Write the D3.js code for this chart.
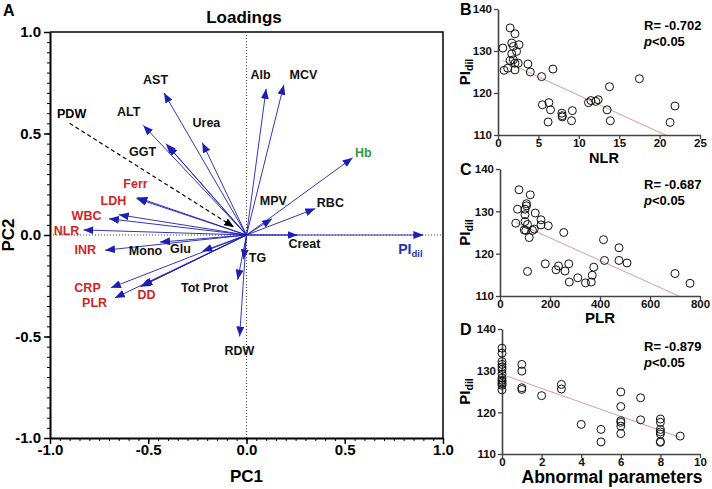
<!DOCTYPE html>
<html>
<head>
<meta charset="utf-8">
<script src="https://cdn.jsdelivr.net/npm/d3@7"></script>
<style>
  body { margin: 0; background: #fff; }
  text { font-family: Arial, "Liberation Sans", sans-serif; font-weight: bold; }
</style>
</head>
<body>
<div id="chart"></div>
<script>
// ---- loadings (panel A) ----
var loadLabels = ["AST", "ALT", "GGT", "", "Urea", "Alb", "MCV", "Hb", "RBC", "MPV", "Creat", "PI",
  "Ferr", "LDH", "WBC", "", "NLR", "INR", "Mono", "Glu", "CRP", "PLR", "DD", "", "Tot Prot", "TG", "RDW"];
var pc1 = [-0.42, -0.525, -0.41, -0.40, -0.225, 0.10, 0.19, 0.54, 0.35, 0.13, 0.26, 0.90,
  -0.555, -0.56, -0.70, -0.65, -0.83, -0.72, -0.44, -0.225, -0.69, -0.67, -0.54, -0.53, -0.045, -0.015, -0.035];
var pc2 = [0.70, 0.54, 0.45, 0.44, 0.455, 0.72, 0.74, 0.38, 0.13, 0.08, 0.0, 0.0,
  0.185, 0.18, 0.08, 0.10, 0.025, -0.075, -0.035, -0.08, -0.26, -0.31, -0.255, -0.25, -0.22, -0.12, -0.50];
var groups = ["lab", "lab", "lab", "lab", "lab", "lab", "lab", "hb", "lab", "lab", "lab", "pi",
  "inflam", "inflam", "inflam", "inflam", "inflam", "inflam", "lab", "lab", "inflam", "inflam", "inflam", "inflam", "lab", "lab", "lab"];
var pdw = [-0.90, 0.55];
var axisTicks = [-1, -0.5, 0, 0.5, 1];

// ---- scatter panels ----
var nlrX = [1.5, 2.1, 0.6, 1.7, 1.9, 2.6, 2.3, 1.7, 1.5, 1.9, 2.1, 2.5, 0.75, 1.2, 2.1, 3.7, 4.0, 5.4, 6.8, 5.5,
  6.3, 6.5, 6.2, 7.9, 7.95, 7.95, 9.2, 9.1, 11.2, 11.5, 12.1, 12.4, 13.5, 13.8, 13.9, 17.5, 21.3, 21.9];
var piB = [135.5, 134.1, 130.7, 131.9, 131.1, 131.5, 129.9, 129.3, 127.7, 127.9, 127.1, 127.1, 125.4, 125.9, 125.5, 126.9, 125.0, 123.9, 125.7, 117.2,
  117.7, 116.0, 113.1, 115.2, 114.6, 114.3, 115.8, 113.4, 117.7, 118.2, 118.0, 118.4, 116.0, 121.5, 113.4, 123.4, 113.0, 116.9];
var plrX = [76, 121, 70, 106, 106, 100, 141, 100, 164, 100, 63, 110, 164, 193, 97, 103, 130, 137, 117, 255,
  110, 181, 224, 234, 260, 275, 277, 311, 342, 365, 369, 375, 414, 418, 476, 476, 508, 700, 760];
var piC = [135.1, 133.9, 130.5, 131.8, 131.3, 130.5, 129.6, 129.2, 128.0, 127.6, 127.2, 126.9, 126.8, 126.6, 125.6, 125.5, 125.5, 125.8, 123.8, 125.0,
  115.8, 117.6, 116.2, 117.1, 115.9, 117.6, 113.3, 114.3, 113.1, 113.3, 114.9, 116.8, 123.3, 118.4, 121.4, 118.4, 117.8, 115.3, 113.0];
var abnX = [0, 0, 0, 0, 0, 0, 0, 0, 0, 0, 0, 0, 0, 1, 1, 1, 1, 2, 3, 3, 4, 5, 5,
  6, 6, 6, 6, 6, 6, 7, 7, 8, 8, 8, 8, 8, 8, 8, 9];
var piD = [135.4, 134.2, 132.2, 131.5, 130.9, 130.3, 129.2, 128.2, 127.7, 127.3, 126.9, 126.5, 125.4, 131.5, 129.9, 125.9, 125.5, 124.0, 126.7, 125.6, 117.1, 115.9, 112.9,
  124.9, 121.4, 118.0, 117.6, 116.7, 114.9, 123.5, 118.2, 118.4, 117.6, 115.9, 115.3, 114.8, 113.0, 112.8, 114.3];
// fitted lines [intercept, slope] as drawn in the figure
var fitB = [128.26, -0.882];
var fitC = [129.08, -0.0267];
var fitD = [129.1, -1.68];
var rText = ["R= -0.702", "R= -0.687", "R= -0.879"];
var piTicks = [110, 120, 130, 140];

var W = 712, H = 489;
var svg = d3.select("#chart").append("svg")
  .attr("width", W).attr("height", H);
svg.append("rect").attr("width", W).attr("height", H).attr("fill", "#fff");

var colorOf = { lab: "#111", inflam: "#d41f26", hb: "#2e9a3e", pi: "#2233b0" };
var blue = "#1d1db8";

// ================= panel A =================
var x = d3.scaleLinear().domain([-1, 1]).range([50, 443]);
var y = d3.scaleLinear().domain([-1, 1]).range([438, 32]);
var fmt = d => d.toFixed(1);

var defs = svg.append("defs");
function marker(id, col) {
  defs.append("marker")
    .attr("id", id)
    .attr("markerUnits", "userSpaceOnUse")
    .attr("viewBox", "0 0 10 8")
    .attr("refX", 10).attr("refY", 4)
    .attr("markerWidth", 10).attr("markerHeight", 8)
    .attr("orient", "auto")
    .append("path").attr("d", "M0,0L10,4L0,8Z").attr("fill", col);
}
marker("arrB", blue);
marker("arrK", "#000");

// frame top/right
svg.append("path")
  .attr("d", `M${x(-1)},${y(1)}H${x(1)}V${y(-1)}`)
  .attr("fill", "none").attr("stroke", "#000").attr("stroke-width", 1.5);

// zero lines
svg.append("line").attr("x1", x(0)).attr("x2", x(0)).attr("y1", y(1)).attr("y2", y(-1))
  .attr("stroke", "#444").attr("stroke-width", 1).attr("stroke-dasharray", "1,2");
svg.append("line").attr("x1", x(-1)).attr("x2", x(1)).attr("y1", y(0)).attr("y2", y(0))
  .attr("stroke", "#444").attr("stroke-width", 1).attr("stroke-dasharray", "1,2");

var minor = d3.range(-20, 21).map(i => i * 0.05);

svg.append("g").attr("transform", `translate(0,${y(-1)})`)
  .call(d3.axisBottom(x).tickValues(minor).tickSize(3).tickFormat(""))
  .call(g => g.select(".domain").remove());
var xa = svg.append("g").attr("transform", `translate(0,${y(-1)})`)
  .call(d3.axisBottom(x).tickValues(axisTicks).tickFormat(fmt).tickSize(6).tickPadding(0).tickSizeOuter(0));
xa.select(".domain").attr("stroke-width", 2);
xa.selectAll(".tick line").attr("stroke-width", 1.5);
xa.selectAll("text").style("font-size", "15px").attr("fill", "#000");

svg.append("g").attr("transform", `translate(${x(-1)},0)`)
  .call(d3.axisLeft(y).tickValues(minor).tickSize(3).tickFormat(""))
  .call(g => g.select(".domain").remove());
var ya = svg.append("g").attr("transform", `translate(${x(-1)},0)`)
  .call(d3.axisLeft(y).tickValues(axisTicks).tickFormat(fmt).tickSize(6).tickPadding(3).tickSizeOuter(0));
ya.select(".domain").attr("stroke-width", 2);
ya.selectAll(".tick line").attr("stroke-width", 1.5);
ya.selectAll("text").style("font-size", "15px").attr("fill", "#000");

svg.append("text").attr("x", 3).attr("y", 16).style("font-size", "16px").text("A");
svg.append("text").attr("x", 244).attr("y", 23).attr("text-anchor", "middle")
  .style("font-size", "17px").text("Loadings");
svg.append("text").attr("x", x(0)).attr("y", 482).attr("text-anchor", "middle")
  .style("font-size", "17px").text("PC1");
svg.append("text").attr("transform", `translate(14,${y(0)}) rotate(-90)`)
  .attr("text-anchor", "middle").style("font-size", "17px").text("PC2");

// PDW dashed arrow pointing to the origin
svg.append("line")
  .attr("x1", x(pdw[0])).attr("y1", y(pdw[1]))
  .attr("x2", x(pdw[0] * 0.07)).attr("y2", y(pdw[1] * 0.07))
  .attr("stroke", "#000").attr("stroke-width", 1.2).attr("stroke-dasharray", "4,3")
  .attr("marker-end", "url(#arrK)");
svg.append("text").attr("x", x(-0.89)).attr("y", y(0.596)).attr("dy", "0.35em")
  .attr("text-anchor", "middle").style("font-size", "12.5px").text("PDW");

var vecs = pc1.map((d, i) => ({ label: loadLabels[i], pc1: d, pc2: pc2[i], group: groups[i] }));

svg.append("g").selectAll("line").data(vecs).enter().append("line")
  .attr("x1", x(0)).attr("y1", y(0))
  .attr("x2", d => x(d.pc1)).attr("y2", d => y(d.pc2))
  .attr("stroke", blue).attr("stroke-width", 0.9)
  .attr("marker-end", "url(#arrB)");

// where each label sits, in loading units
var labelAt = {
  "AST": [-0.463, 0.764], "ALT": [-0.60, 0.606], "GGT": [-0.529, 0.409], "Urea": [-0.204, 0.552],
  "Alb": [0.071, 0.788], "MCV": [0.29, 0.788], "Hb": [0.595, 0.404], "RBC": [0.427, 0.158],
  "MPV": [0.137, 0.167], "Creat": [0.295, -0.044], "PI": [0.834, -0.069],
  "Ferr": [-0.565, 0.251], "LDH": [-0.677, 0.167], "WBC": [-0.814, 0.094], "NLR": [-0.916, 0.02],
  "INR": [-0.82, -0.074], "Mono": [-0.514, -0.079], "Glu": [-0.336, -0.069], "CRP": [-0.809, -0.261],
  "PLR": [-0.773, -0.335], "DD": [-0.509, -0.296], "Tot Prot": [-0.214, -0.261], "TG": [0.056, -0.113],
  "RDW": [-0.036, -0.571]
};

var labs = svg.append("g").selectAll("text").data(vecs.filter(d => d.label)).enter().append("text")
  .attr("x", d => x(labelAt[d.label][0]))
  .attr("y", d => y(labelAt[d.label][1]))
  .attr("dy", "0.35em")
  .attr("text-anchor", "middle")
  .style("font-size", "12.5px")
  .attr("fill", d => colorOf[d.group]);
labs.filter(d => d.label !== "PI").text(d => d.label);
labs.filter(d => d.label === "PI").each(function() {
  var t = d3.select(this).style("font-size", "14px");
  t.append("tspan").text("PI");
  t.append("tspan").attr("dy", "0.3em").style("font-size", "9.5px").text("dil");
});

// ================= scatter panels =================
function scatter(opt) {
  var sx = d3.scaleLinear().domain(opt.xdom).range([opt.left, 700]);
  var sy = d3.scaleLinear().domain([110, 140]).range([opt.bottom, opt.top]);
  var g = svg.append("g");

  var clipId = "clip" + opt.letter;
  defs.append("clipPath").attr("id", clipId).append("rect")
    .attr("x", opt.left).attr("y", opt.top)
    .attr("width", 700 - opt.left).attr("height", opt.bottom - opt.top);

  var xmin = d3.min(opt.xs), xmax = d3.max(opt.xs);
  g.append("line")
    .attr("clip-path", `url(#${clipId})`)
    .attr("x1", sx(xmin)).attr("y1", sy(opt.fit[0] + opt.fit[1] * xmin))
    .attr("x2", sx(xmax)).attr("y2", sy(opt.fit[0] + opt.fit[1] * xmax))
    .attr("stroke", "#d99a9a").attr("stroke-width", 1);

  var xg = g.append("g").attr("transform", `translate(0,${opt.bottom})`)
    .call(d3.axisBottom(sx).tickValues(opt.xticks).tickSize(4).tickPadding(0).tickSizeOuter(0));
  var yg = g.append("g").attr("transform", `translate(${opt.left},0)`)
    .call(d3.axisLeft(sy).tickValues(piTicks).tickSize(4).tickPadding(2).tickSizeOuter(0));
  [xg, yg].forEach(a => {
    a.select(".domain").attr("stroke", "#444").attr("stroke-width", 1.6);
    a.selectAll(".tick line").attr("stroke", "#444").attr("stroke-width", 1.3);
    a.selectAll("text").style("font-size", "11.5px").attr("fill", "#111");
  });

  g.append("g").selectAll("circle").data(opt.xs).enter().append("circle")
    .attr("cx", d => sx(d))
    .attr("cy", (d, i) => sy(opt.ys[i]))
    .attr("r", 4)
    .attr("fill", "none").attr("stroke", "#111").attr("stroke-width", 1);

  g.append("text").attr("x", 460).attr("y", opt.top + 6).style("font-size", "16px").text(opt.letter);
  var yl = g.append("text")
    .attr("transform", `translate(470,${(opt.top + opt.bottom) / 2}) rotate(-90)`)
    .attr("text-anchor", "middle").style("font-size", "15px");
  yl.append("tspan").text("PI");
  yl.append("tspan").attr("dy", "0.3em").style("font-size", "10.5px").text("dil");

  g.append("text").attr("x", opt.xlx).attr("y", opt.xly).attr("text-anchor", "middle")
    .style("font-size", opt.xlsize).text(opt.xlabel);

  g.append("text").attr("x", 644).attr("y", opt.rY).style("font-size", "13px").text(opt.r);
  var p = g.append("text").attr("x", 644).attr("y", opt.rY + 16).style("font-size", "13px");
  p.append("tspan").style("font-style", "italic").text("p");
  p.append("tspan").text("<0.05");
}

scatter({ letter: "B", xs: nlrX, ys: piB, xdom: [0, 25], xticks: [0, 5, 10, 15, 20, 25],
  left: 498, top: 9, bottom: 135, fit: fitB, r: rText[0], rY: 30,
  xlabel: "NLR", xlx: 604, xly: 163, xlsize: "14.5px" });
scatter({ letter: "C", xs: plrX, ys: piC, xdom: [0, 800], xticks: [0, 200, 400, 600, 800],
  left: 500, top: 169, bottom: 296, fit: fitC, r: rText[1], rY: 189,
  xlabel: "PLR", xlx: 600, xly: 323, xlsize: "15px" });
scatter({ letter: "D", xs: abnX, ys: piD, xdom: [0, 10], xticks: [0, 2, 4, 6, 8, 10],
  left: 502, top: 329, bottom: 454, fit: fitD, r: rText[2], rY: 351,
  xlabel: "Abnormal parameters", xlx: 612, xly: 483, xlsize: "17.5px" });
</script>
</body>
</html>
